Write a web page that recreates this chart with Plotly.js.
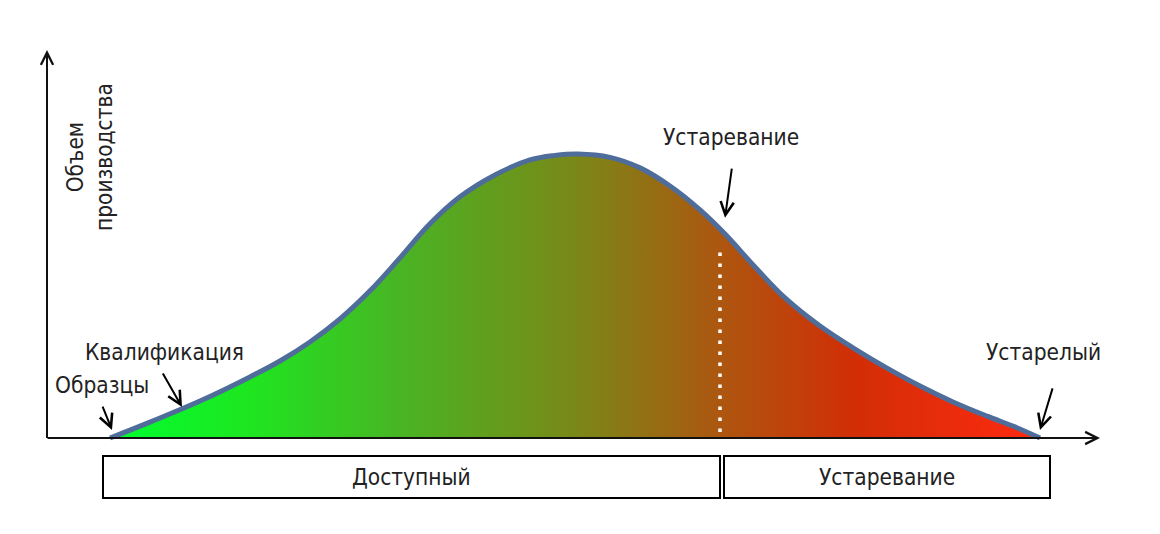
<!DOCTYPE html>
<html>
<head>
<meta charset="utf-8">
<script src="https://cdn.plot.ly/plotly-3.0.1.min.js"></script>
<style>html,body{margin:0;padding:0;background:#fff;}#chart{width:1160px;height:534px;}</style>
</head>
<body>
<div id="chart"></div>
<script>
// Product life cycle curve (time units, production volume as % of peak)
const timeValues = [0, 4.0, 9.0, 14.0, 17.0, 20.0, 23.0, 26.0, 29.0, 32.0, 35.0, 38.5, 42.0, 44.5, 46.8, 50.0, 53.0, 56.0, 59.0, 61.5, 64.5, 67.5, 71.0, 74.5, 77.7, 81.0, 84.3, 87.7, 90.5, 93.0];
const volumeValues = [0, 5.6, 13.0, 21.5, 27.1, 33.8, 41.9, 51.8, 63.4, 75.4, 84.9, 92.6, 97.9, 99.5, 100, 98.8, 95.1, 88.7, 80.3, 71.8, 60.2, 49.3, 39.4, 31.3, 24.6, 18.3, 12.7, 7.7, 3.9, 0];

// Phase boundaries (time units)
const phaseNames = ["Доступный", "Устаревание"];
const phaseStart = [-0.7, 61.4];
const phaseEnd = [61.0, 94.0];
const obsolescenceTime = 61.0;
const obsolescenceTop = 66.9;

// Milestone labels
const milestoneLabels = ["Образцы", "Квалификация", "Устаревание", "Устарелый"];
const milestoneLabelX = [-0.8, 5.4, 62.1, 93.3];
const milestoneLabelY = [18.7, 30.3, 106.0, 30.3];
const milestoneTipX = [0.2, 7.2, 61.5, 93.0];
const milestoneTipY = [2.8, 10.9, 77.5, 2.8];
const milestoneTailX = [-0.8, 5.2, 62.2, 94.3];
const milestoneTailY = [11.6, 23.2, 95.4, 18.0];

const yAxisTitle = "Объем<br>производства";

const FONT = "DejaVu Sans Condensed, DejaVu Sans, sans-serif";
const FSIZE = 22.5;
const TXT = "#222222";

const traces = [
  {
    x: timeValues, y: volumeValues, type: "scatter", mode: "lines",
    fill: "tozeroy",
    fillgradient: {
      type: "horizontal",
      colorscale: [
        [0.0, "#00ff30"],
        [0.15, "#1ee620"],
        [0.31, "#48b524"],
        [0.5, "#7a8818"],
        [0.65, "#ab5810"],
        [0.8, "#d22e06"],
        [1.0, "#ff2a10"]
      ]
    },
    line: {color: "#4f6d9a", width: 5, shape: "spline", smoothing: 1.1, simplify: false},
    hoverinfo: "skip", showlegend: false
  },
  {
    x: [obsolescenceTime, obsolescenceTime], y: [2.1, obsolescenceTop],
    type: "scatter", mode: "lines",
    line: {color: "#ffffff", width: 3.5, dash: "3.5px,7.5px"},
    hoverinfo: "skip", showlegend: false
  }
];

const annotations = [];
for (let i = 0; i < milestoneLabels.length; i++) {
  annotations.push({
    x: milestoneLabelX[i], y: milestoneLabelY[i], xref: "x", yref: "y",
    text: milestoneLabels[i], showarrow: false,
    font: {family: FONT, size: FSIZE, color: TXT}, xanchor: "center", yanchor: "middle"
  });
  annotations.push({
    x: milestoneTipX[i], y: milestoneTipY[i], xref: "x", yref: "y",
    ax: milestoneTailX[i], ay: milestoneTailY[i], axref: "x", ayref: "y",
    text: "", showarrow: true, arrowhead: 5, arrowsize: 1.3, arrowwidth: 2, arrowcolor: "#000"
  });
}
// axis arrows
annotations.push({
  x: -6.3, y: 136.6, xref: "x", yref: "y", ax: -6.3, ay: -0.5, axref: "x", ayref: "y",
  text: "", showarrow: true, arrowhead: 5, arrowsize: 1.2, arrowwidth: 2, arrowcolor: "#111"
});
annotations.push({
  x: 99.0, y: 0, xref: "x", yref: "y", ax: -6.4, ay: 0, axref: "x", ayref: "y",
  text: "", showarrow: true, arrowhead: 5, arrowsize: 1.2, arrowwidth: 2, arrowcolor: "#111"
});
// y label
annotations.push({
  x: -2.1, y: 98.9, xref: "x", yref: "y", text: yAxisTitle, showarrow: false, textangle: -90,
  font: {family: FONT, size: FSIZE, color: TXT}, xanchor: "center", yanchor: "middle"
});

const shapes = [];
for (let i = 0; i < phaseNames.length; i++) {
  shapes.push({
    type: "rect", xref: "x", yref: "y", x0: phaseStart[i], x1: phaseEnd[i], y0: -6.34, y1: -21.1,
    line: {color: "#000", width: 2}, fillcolor: "#fff"
  });
  annotations.push({
    x: (phaseStart[i] + phaseEnd[i]) / 2, y: -13.7, xref: "x", yref: "y",
    text: phaseNames[i], showarrow: false,
    font: {family: FONT, size: FSIZE, color: TXT}, xanchor: "center", yanchor: "middle"
  });
}

const layout = {
  width: 1160, height: 534,
  margin: {l: 0, r: 0, t: 0, b: 0},
  paper_bgcolor: "#fff", plot_bgcolor: "#fff",
  xaxis: {range: [-11, 105], showgrid: false, zeroline: false, showticklabels: false, showline: false, ticks: "", fixedrange: true},
  yaxis: {range: [-33.8, 154.2], showgrid: false, zeroline: false, showticklabels: false, showline: false, ticks: "", fixedrange: true},
  shapes: shapes,
  annotations: annotations,
  showlegend: false
};

Plotly.newPlot("chart", traces, layout, {displayModeBar: false, staticPlot: true});
</script>
</body>
</html>
